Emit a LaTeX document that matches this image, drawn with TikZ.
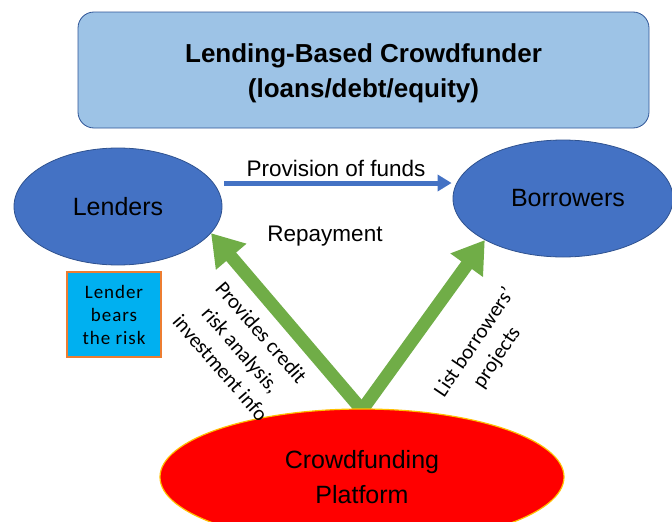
\documentclass[tikz,border=0pt]{standalone}
\usepackage{fontspec}
\setmainfont{Liberation Sans}
\newfontfamily\calib{Carlito}
\newfontfamily\calibsp[LetterSpace=5]{Carlito}
\usetikzlibrary{shapes.geometric,arrows.meta}
\definecolor{boxblue}{HTML}{9DC3E6}
\definecolor{boxedge}{HTML}{2F5597}
\definecolor{ellblue}{HTML}{4472C4}
\definecolor{elledge}{HTML}{2F528F}
\definecolor{riskblue}{HTML}{00B0F0}
\definecolor{riskedge}{HTML}{ED7D31}
\definecolor{grn}{HTML}{70AD47}
\definecolor{platedge}{HTML}{FFC000}
\tikzset{
  party/.style={ellipse, draw=elledge, line width=0.8pt, fill=ellblue, inner sep=0pt,
    font=\fontsize{25}{30}\selectfont},
  greenarrow/.style={draw=grn, line width=13pt, -{Triangle[width=38pt,length=31pt]}},
  bluearrow/.style={draw=ellblue, line width=5pt, -{Triangle[width=16pt,length=14pt]}},
  lbl/.style={font=\fontsize{22.5}{27}\selectfont},
  rotlbl/.style={font=\calib\fontsize{21}{27}\selectfont, align=center, inner sep=0pt}
}
\begin{document}
\begin{tikzpicture}[x=1pt,y=-1pt]
\useasboundingbox (0,0) rectangle (672,522);
\clip (0,0) rectangle (672,522);
\node[draw=boxedge, line width=0.8pt, fill=boxblue, rounded corners=16pt,
  minimum width=571pt, minimum height=116pt] (title) at (363.5,70) {};
\node[align=center, font=\bfseries\fontsize{26}{35}\selectfont] (titletext) at (363.5,73)
  {Lending-Based Crowdfunder\\(loans/debt/equity)};
\node[party, minimum width=208pt, minimum height=117pt] (lend) at (118,206.5) {Lenders};
\node[party, minimum width=220pt, minimum height=117pt] (borr) at (563,198.5) {\hspace*{10pt}Borrowers};
\draw[bluearrow] ([xshift=2pt,yshift=23.5pt]lend.east) -- ([xshift=-1pt,yshift=15.5pt]borr.west);
\node[lbl] (prov) at (336,168) {Provision of funds};
\node[lbl] (rep) at (325,236) {Repayment};
\node[draw=riskedge, line width=1.5pt, fill=riskblue, minimum width=94pt, minimum height=85pt,
  align=center, inner sep=0pt, font=\calibsp\fontsize{19}{23}\selectfont] (risk) at (114,314.5)
  {Lender\\bears\\the risk};
\coordinate (apex) at (362,410);
\draw[greenarrow] (apex) -- (lend.-16.5);
\draw[greenarrow] (apex) -- (borr.-152.5);
\node[ellipse, draw=platedge, line width=1.2pt, fill=red, inner sep=0pt,
  minimum width=404pt, minimum height=136pt, align=center,
  font=\fontsize{25}{35}\selectfont] (plat) at (362,477) {Crowdfunding\\Platform};
\node[rotlbl, rotate=-49] (prov2) at (241,350) {Provides credit\\risk analysis,\\investment info};
\node[rotlbl, rotate=56] (list) at (486,350) {List borrowers’\\projects};
\end{tikzpicture}
\end{document}
